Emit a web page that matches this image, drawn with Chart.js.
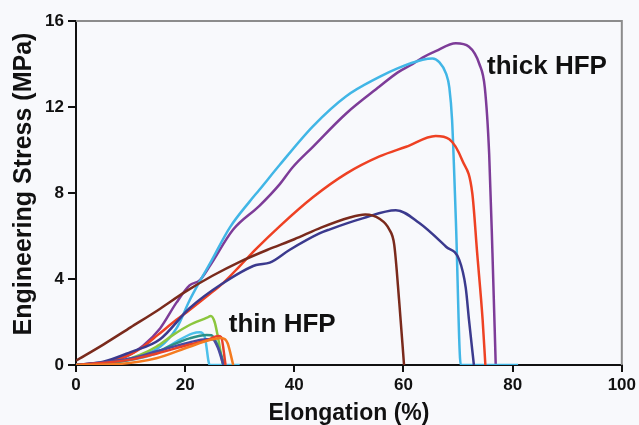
<!DOCTYPE html>
<html>
<head>
<meta charset="utf-8">
<script src="https://cdn.jsdelivr.net/npm/chart.js"></script>
<style>
  html, body { margin: 0; padding: 0; background: #f8f9fc; }
  #wrap { width: 639px; height: 425px; }
</style>
</head>
<body>
<div id="wrap"><canvas id="myChart" width="639" height="425"></canvas></div>
<script>
// elongation (%) / stress (MPa), one pair of arrays per sample
const xPurple = [0, 5, 9.3, 12.3, 15.4, 18.4, 20.8, 22.7, 24.5, 28.8, 33.6, 37.3, 39.7, 43.4, 49.5, 55.6, 58.9, 61.7, 63.5, 65.9, 69.6, 72, 73.9, 74.9, 75.7, 76.3, 76.9];
const yPurple = [0, 0.1, 0.4, 0.9, 1.7, 2.9, 3.7, 3.95, 4.6, 6.3, 7.4, 8.4, 9.2, 10.15, 11.7, 12.95, 13.6, 14.0, 14.3, 14.6, 14.96, 14.8, 14.0, 12.9, 9.8, 5.2, 0];

const xCyan = [0, 5, 10, 15.4, 18.4, 20.8, 22.7, 24.5, 28.2, 31.8, 33.6, 37.3, 43.4, 49.5, 55.6, 58.9, 63.5, 65.3, 66.5, 67.8, 68.4, 68.9, 69.6, 70.5, 81];
const yCyan = [0, 0.05, 0.3, 0.85, 1.7, 3.0, 3.9, 4.7, 6.4, 7.6, 8.15, 9.3, 11.1, 12.5, 13.4, 13.8, 14.2, 14.26, 14.1, 13.55, 12.9, 11.4, 6.7, 0, 0];

const xRed = [0, 5, 10, 12.3, 15, 18.4, 20.8, 24.5, 26.9, 30, 33, 37.3, 43.4, 49.5, 55.6, 60.5, 65.9, 68.4, 70.8, 72.6, 73.5, 74.5, 75];
const yRed = [0, 0.1, 0.5, 0.85, 1.4, 2.1, 2.56, 3.3, 3.8, 4.6, 5.4, 6.45, 7.8, 8.9, 9.7, 10.15, 10.65, 10.5, 9.5, 8.0, 5.2, 2.1, 0];

const xNavy = [0, 5, 10, 15.4, 20.8, 26.9, 33, 35.5, 39.1, 44.6, 46.4, 52.5, 58.6, 62.9, 67.8, 70.2, 71.4, 72, 72.9];
const yNavy = [0, 0.15, 0.6, 1.2, 2.64, 3.8, 4.65, 4.76, 5.35, 6.12, 6.3, 6.82, 7.2, 6.6, 5.5, 4.9, 3.6, 2.1, 0];

const xBrown = [0, 5, 10, 15, 20, 25, 30, 35, 40, 45, 50, 53, 55.6, 57.4, 58.3, 59.2, 60.1];
const yBrown = [0.2, 0.95, 1.75, 2.55, 3.4, 4.15, 4.8, 5.35, 5.85, 6.4, 6.85, 7.0, 6.8, 6.3, 5.6, 3.0, 0];

const xGreen = [0, 6, 11.7, 14.7, 17.8, 20.8, 24, 24.7, 25.4, 26, 26.9];
const yGreen = [0, 0.05, 0.47, 0.85, 1.4, 1.86, 2.2, 2.28, 2.0, 1.3, 0];

const xLtBlue = [0, 8, 14.7, 17.8, 21.4, 22.7, 23.6, 24.5, 30];
const yLtBlue = [0, 0.15, 0.54, 1.0, 1.47, 1.52, 1.3, 0, 0];

const xTeal = [0, 8, 14.7, 17.8, 20.8, 23.9, 24.8, 25.8, 27.2];
const yTeal = [0, 0.15, 0.6, 0.95, 1.24, 1.4, 1.38, 1.0, 0];

const xNavyThin = [0, 10, 15, 20.8, 23.9, 25, 26, 27];
const yNavyThin = [0, 0.3, 0.65, 1.05, 1.2, 1.2, 0.8, 0];

const xRedThin = [0, 10, 15, 20.8, 24, 26, 26.6, 27.4];
const yRedThin = [0, 0.25, 0.55, 0.95, 1.15, 1.35, 1.3, 0];

const xOrange = [0, 8, 14.7, 20.8, 24.5, 26.5, 27.3, 27.8, 28.8];
const yOrange = [0, 0.05, 0.31, 0.85, 1.16, 1.26, 1.2, 1.0, 0];

const xTicks = [0, 20, 40, 60, 80, 100];
const yTicks = [0, 4, 8, 12, 16];

// label text and where it sits, in data units
const labels = ['thick HFP', 'thin HFP'];
const labelAt = [[75.3, 13.85], [28, 1.85]];

const series = [
  ['thin orange', xOrange, yOrange, '#f47b20'],
  ['thin red', xRedThin, yRedThin, '#e8412a'],
  ['thin navy', xNavyThin, yNavyThin, '#4a4aa0'],
  ['thin teal', xTeal, yTeal, '#2b8f86'],
  ['thin blue', xLtBlue, yLtBlue, '#4cc0ea'],
  ['thin green', xGreen, yGreen, '#8cc63e'],
  ['brown', xBrown, yBrown, '#7a2a1c'],
  ['navy', xNavy, yNavy, '#3b3a8e'],
  ['red', xRed, yRed, '#ee4123'],
  ['cyan', xCyan, yCyan, '#41b6e6'],
  ['purple', xPurple, yPurple, '#7d3c98']
];

const datasets = series.map(([name, xs, ys, color]) => ({
  label: name,
  data: xs.map((x, i) => ({ x: x, y: ys[i] })),
  showLine: true,
  borderColor: color,
  borderWidth: 2.5,
  pointRadius: 0,
  cubicInterpolationMode: 'monotone',
  fill: false
}));

const FONT = '"Liberation Sans", Arial, sans-serif';

const bgPlugin = {
  id: 'bg',
  beforeDraw(chart) {
    const ctx = chart.ctx;
    ctx.save();
    ctx.fillStyle = '#f8f9fc';
    ctx.fillRect(0, 0, chart.width, chart.height);
    ctx.restore();
  }
};

const framePlugin = {
  id: 'frame',
  beforeDatasetsDraw(chart) {
    const { ctx, chartArea: a } = chart;
    ctx.save();
    ctx.strokeStyle = '#8c8c8c';
    ctx.lineWidth = 2;
    ctx.beginPath();
    ctx.moveTo(a.left, a.top);
    ctx.lineTo(a.right, a.top);
    ctx.lineTo(a.right, a.bottom);
    ctx.stroke();
    ctx.restore();
  },
  afterDatasetsDraw(chart) {
    const ctx = chart.ctx;
    const xs = chart.scales.x, ys = chart.scales.y;
    ctx.save();
    ctx.fillStyle = '#111';
    ctx.font = 'bold 26px ' + FONT;
    ctx.textBaseline = 'middle';
    ctx.textAlign = 'left';
    labels.forEach((t, i) => {
      ctx.fillText(t, xs.getPixelForValue(labelAt[i][0]), ys.getPixelForValue(labelAt[i][1]));
    });
    // y axis title, sits a little above the plot middle in the original
    ctx.translate(24, 184);
    ctx.rotate(-Math.PI / 2);
    ctx.textAlign = 'center';
    ctx.font = 'bold 25px ' + FONT;
    ctx.fillText('Engineering Stress (MPa)', 0, 0);
    ctx.restore();
  }
};

const tickFont = { family: FONT, size: 17, weight: 'bold' };
const titleFont = { family: FONT, size: 23, weight: 'bold', lineHeight: 1.0 };

new Chart(document.getElementById('myChart').getContext('2d'), {
  type: 'scatter',
  data: { datasets: datasets },
  options: {
    responsive: false,
    animation: false,
    events: [],
    layout: { padding: { top: 21, right: 16, left: 0, bottom: 0 } },
    plugins: { legend: { display: false }, tooltip: { enabled: false } },
    scales: {
      x: {
        type: 'linear',
        min: 0, max: 100,
        afterBuildTicks: (s) => { s.ticks = xTicks.map(v => ({ value: v })); },
        afterFit: (s) => { s.height = 60; },
        ticks: { color: '#111', font: tickFont, padding: 3, maxRotation: 0 },
        grid: { display: true, drawOnChartArea: false, drawTicks: true, tickLength: 7, color: '#111', lineWidth: 2 },
        border: { display: true, color: '#111', width: 2 },
        title: { display: true, text: 'Elongation (%)', color: '#111', font: titleFont, padding: { top: 0, bottom: 0 } }
      },
      y: {
        type: 'linear',
        min: 0, max: 16,
        afterBuildTicks: (s) => { s.ticks = yTicks.map(v => ({ value: v })); },
        afterFit: (s) => { s.width = 76; },
        ticks: { color: '#111', font: tickFont, padding: 4 },
        grid: { display: true, drawOnChartArea: false, drawTicks: true, tickLength: 8, color: '#111', lineWidth: 2 },
        border: { display: true, color: '#111', width: 2 },
        title: { display: false }
      }
    }
  },
  plugins: [bgPlugin, framePlugin]
});
</script>
</body>
</html>
